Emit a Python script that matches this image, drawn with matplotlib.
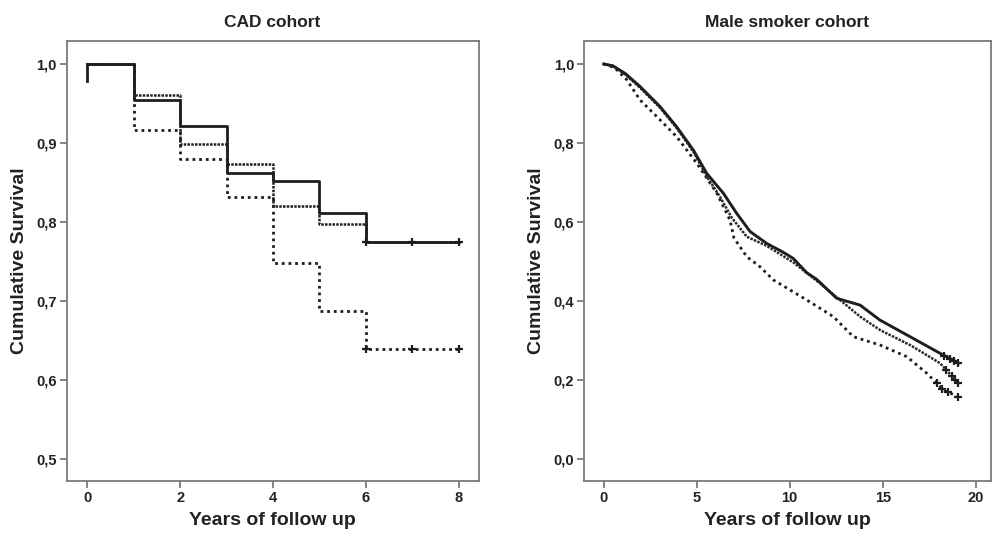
import numpy as np
import matplotlib
matplotlib.use("Agg")
import matplotlib.pyplot as plt

plt.rcParams['font.family'] = ['Liberation Sans', 'DejaVu Sans']
plt.rcParams['font.weight'] = 'bold'

# ---------------- CAD cohort (left) ----------------
cad_t = [0, 1, 2, 3, 4, 5, 6, 8]
cad_solid = [1.0, 0.954, 0.922, 0.862, 0.852, 0.811, 0.775, 0.775]
cad_dense = [1.0, 0.961, 0.899, 0.874, 0.820, 0.798, 0.775, 0.775]
cad_sparse = [1.0, 0.917, 0.880, 0.832, 0.748, 0.688, 0.639, 0.639]
cad_start_drop = 0.978
cad_censor_t = [6, 7, 8]

# ---------------- Male smoker cohort (right) ----------------
ms_solid_t = [0, 0.5, 1.15, 1.95, 3.03, 3.92, 4.82, 5.54, 6.43, 7.15, 7.87, 8.76,
              9.6, 10.19, 10.91, 11.45, 12.53, 13.78, 14.85, 16.47, 18.08, 19.07]
ms_solid = [1.0, 0.995, 0.976, 0.943, 0.892, 0.841, 0.782, 0.723, 0.673, 0.622, 0.576, 0.546,
            0.525, 0.508, 0.472, 0.455, 0.407, 0.390, 0.352, 0.310, 0.268, 0.243]
ms_dense_t = [0, 0.5, 1.15, 1.95, 3.03, 3.92, 4.82, 5.54, 6.25, 6.9, 7.69, 8.76,
              10.19, 11.63, 12.7, 13.78, 14.85, 16.47, 18.08, 19.07]
ms_dense = [1.0, 0.995, 0.974, 0.940, 0.889, 0.838, 0.778, 0.715, 0.664, 0.610, 0.563, 0.540,
            0.498, 0.445, 0.403, 0.361, 0.327, 0.289, 0.243, 0.192]
ms_sparse_t = [0, 0.6, 1.24, 1.95, 2.85, 3.92, 5.0, 6.08, 6.79, 7.0, 7.69, 8.4, 9.12,
               10.91, 12.34, 13.42, 14.85, 16.29, 17.37, 18.26, 19.07]
ms_sparse = [1.0, 0.99, 0.960, 0.909, 0.867, 0.816, 0.749, 0.673, 0.605, 0.56, 0.5125, 0.487, 0.4536,
             0.403, 0.361, 0.310, 0.289, 0.2596, 0.2175, 0.175, 0.158]
ms_solid_censor = [18.3, 18.6, 18.85, 19.07]
ms_dense_censor = [18.4, 18.7, 18.9, 19.07]
ms_sparse_censor = [17.9, 18.2, 18.5, 19.07]

cad_yticks = [0.5, 0.6, 0.7, 0.8, 0.9, 1.0]
cad_xticks = [0, 2, 4, 6, 8]
ms_yticks = [0.0, 0.2, 0.4, 0.6, 0.8, 1.0]
ms_xticks = [0, 5, 10, 15, 20]

INK = '#1e1e1e'
SPINE = '#7a7a7a'
sparse_ls = (0, (1.0, 1.4))
dense_ls = (0, (1.0, 0.5))

fig = plt.figure(figsize=(9.92, 5.44), dpi=100)
axL = fig.add_axes([0.0672, 0.1158, 0.4153, 0.8088])
axR = fig.add_axes([0.5887, 0.1158, 0.4103, 0.8088])


def style(ax, title, xticks, yticks):
    for s in ax.spines.values():
        s.set_color(SPINE)
        s.set_linewidth(1.3)
    ax.set_xticks(xticks)
    ax.set_yticks(yticks)
    ax.set_yticklabels([f"{v:.1f}".replace('.', ',') for v in yticks])
    ax.set_xticklabels([str(v) for v in xticks])
    ax.tick_params(direction='out', length=5, width=1.3, color=SPINE,
                   labelsize=10.5, labelcolor='#222222', pad=2)
    for lab in ax.get_xticklabels() + ax.get_yticklabels():
        lab.set_fontweight('bold')
    ax.set_title(title, fontsize=12.5, fontweight='bold', color='#222222', pad=10)
    ax.set_xlabel('Years of follow up', fontsize=14, fontweight='bold', color='#222222', labelpad=5)
    ax.set_ylabel('Cumulative Survival', fontsize=14, fontweight='bold', color='#222222', labelpad=6)


# Left panel
axL.plot([cad_t[0], cad_t[0]], [cad_start_drop, cad_solid[0]], color=INK, lw=2.0)
axL.plot(cad_t, cad_sparse, drawstyle='steps-post', color=INK, lw=2.0, ls=sparse_ls)
axL.plot(cad_t, cad_dense, drawstyle='steps-post', color=INK, lw=1.8, ls=dense_ls)
axL.plot(cad_t, cad_solid, drawstyle='steps-post', color=INK, lw=2.0)
axL.plot(cad_censor_t, np.interp(cad_censor_t, cad_t, cad_solid), ls='none',
         marker='+', ms=6, mew=1.6, color=INK)
axL.plot(cad_censor_t, np.interp(cad_censor_t, cad_t, cad_sparse), ls='none',
         marker='+', ms=6, mew=1.6, color=INK)
axL.set_xlim(-0.447, 8.43)
axL.set_ylim(0.4726, 1.029)
style(axL, 'CAD cohort', cad_xticks, cad_yticks)

# Right panel
axR.plot(ms_sparse_t, ms_sparse, color=INK, lw=2.0, ls=sparse_ls)
axR.plot(ms_dense_t, ms_dense, color='#2a2a2a', lw=1.8, ls=dense_ls)
axR.plot(ms_solid_t, ms_solid, color=INK, lw=2.1)
for ct, tt, yy in [(ms_solid_censor, ms_solid_t, ms_solid),
                   (ms_dense_censor, ms_dense_t, ms_dense),
                   (ms_sparse_censor, ms_sparse_t, ms_sparse)]:
    axR.plot(ct, np.interp(ct, tt, yy), ls='none', marker='+', ms=6, mew=1.6, color=INK)
axR.set_xlim(-1.06, 20.82)
axR.set_ylim(-0.055, 1.058)
style(axR, 'Male smoker cohort', ms_xticks, ms_yticks)

fig.savefig('out.png', dpi=100)
